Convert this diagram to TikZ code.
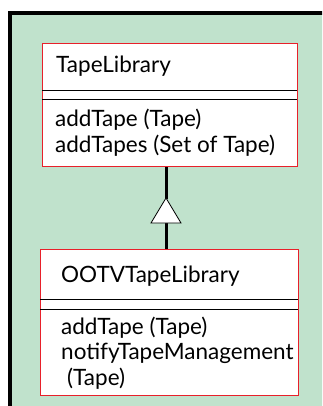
\documentclass[tikz,border=0pt]{standalone}
\usepackage{fontspec}
\setmainfont{Lato}
\definecolor{bggreen}{RGB}{192,226,204}
\definecolor{boxred}{RGB}{232,32,42}
\begin{document}
\begin{tikzpicture}[x=1pt,y=-1pt,
  classbox/.style={draw=boxred,fill=white,line width=1pt},
  sep/.style={draw=black,line width=0.9pt},
  txt/.style={anchor=base west,inner sep=0pt,font=\fontsize{22.5}{22.5}\selectfont},
  link/.style={line width=3pt}]
\useasboundingbox (0,0) rectangle (322,406);
\begin{scope}
\clip (0,0) rectangle (322,406);
\fill[bggreen] (10,13) rectangle (330,420);
\draw[line width=4pt] (10,13.5) -- ++(0,420) (8,13.5) -- ++(330,0);
\end{scope}
% top class
\node[classbox,minimum width=255pt,minimum height=123pt,anchor=north west,inner sep=0pt] (c1) at (42,43) {};
\draw[sep] (42,90) -- (297,90);
\draw[sep] (42,99) -- (297,99);
\node[txt] (c1n) at (56,73) {TapeLibrary};
\node[txt] (c1a) at (55,127) {addTape (Tape)};
\node[txt] (c1b) at (55,152) {addTapes (Set of Tape)};
% bottom class
\node[classbox,minimum width=258pt,minimum height=146pt,anchor=north west,inner sep=0pt] (c2) at (40,249) {};
\draw[sep] (40,299) -- (298,299);
\draw[sep] (40,309) -- (298,309);
\node[txt] (c2n) at (61,282) {OOTVTapeLibrary};
\node[txt] (c2a) at (61,334) {addTape (Tape)};
\node[txt] (c2b) at (61,359) {notifyTapeManagement};
\node[txt] (c2c) at (67,385) {(Tape)};
% generalization
\coordinate (tri) at (166,223);
\draw[link] (c1.south -| 166,0) -- (166,199);
\draw[link] (tri) -- (c2.north -| 166,0);
\draw[fill=white,line width=0.8pt] (151,223) -- (166,198) -- (181,223) -- cycle;
\end{tikzpicture}
\end{document}
